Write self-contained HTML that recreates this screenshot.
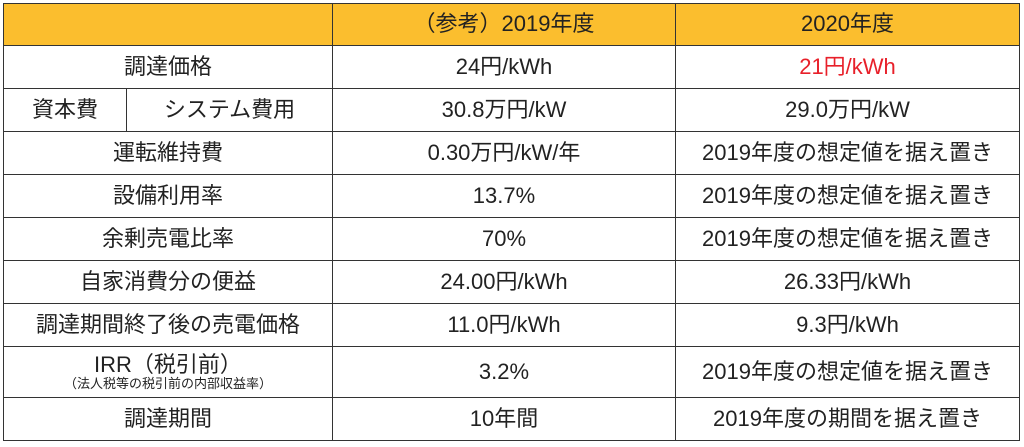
<!DOCTYPE html>
<html><head><meta charset="utf-8"><style>
body{margin:0;width:1024px;height:447px;background:#fff;position:relative;overflow:hidden;font-family:"Liberation Sans","Noto Sans CJK JP",sans-serif;color:#222}
.c{position:absolute;box-sizing:border-box;display:flex;align-items:center;justify-content:center;font-size:22px;border:1px solid #333;margin:-1px 0 0 -1px;text-align:center;line-height:1.1}
.h{background:#FBBE2E}
</style></head><body>
<div id="t"></div>
<script>
const rowsY=[4,46,89,132,175,218,261,304,347,398,441];
const colsX=[4,127,333,676,1020];
const rows=[
["","（参考）2019年度","2020年度"],
["調達価格","24円/kWh","21円/kWh"],
["SYS","30.8万円/kW","29.0万円/kW"],
["運転維持費","0.30万円/kW/年","2019年度の想定値を据え置き"],
["設備利用率","13.7%","2019年度の想定値を据え置き"],
["余剰売電比率","70%","2019年度の想定値を据え置き"],
["自家消費分の便益","24.00円/kWh","26.33円/kWh"],
["調達期間終了後の売電価格","11.0円/kWh","9.3円/kWh"],
["IRR","3.2%","2019年度の想定値を据え置き"],
["調達期間","10年間","2019年度の期間を据え置き"]];
function cell(x1,x2,y1,y2,html,cls,name){
 const d=document.createElement('div');
 d.className='c '+(cls||'');
 d.style.left=x1+'px';d.style.top=y1+'px';d.style.width=(x2-x1+1)+'px';d.style.height=(y2-y1+1)+'px';
 d.innerHTML=html;
 
 
 document.body.appendChild(d);
}
rows.forEach((r,i)=>{
 const y1=rowsY[i],y2=rowsY[i+1],h=i==0?'h':'';
 if(r[0]==="SYS"){
  cell(colsX[0],colsX[1],y1,y2,"資本費",h,'row-label-capital');
  cell(colsX[1],colsX[2],y1,y2,"システム費用",h,'row-label-system-cost');
 }else if(r[0]==="IRR"){
  cell(colsX[0],colsX[2],y1,y2,'<div><div>IRR（税引前）</div><div style="font-size:13px">（法人税等の税引前の内部収益率）</div></div>',h,'row-label-irr');
 }else cell(colsX[0],colsX[2],y1,y2,r[0],h,'row-label-'+i);
 cell(colsX[2],colsX[3],y1,y2,r[1],h,'value-2019-'+i);
 cell(colsX[3],colsX[4],y1,y2,i==1?'<span style="color:#e8202a">'+r[2]+'</span>':r[2],h,'value-2020-'+i);
});
</script>
</body></html>
